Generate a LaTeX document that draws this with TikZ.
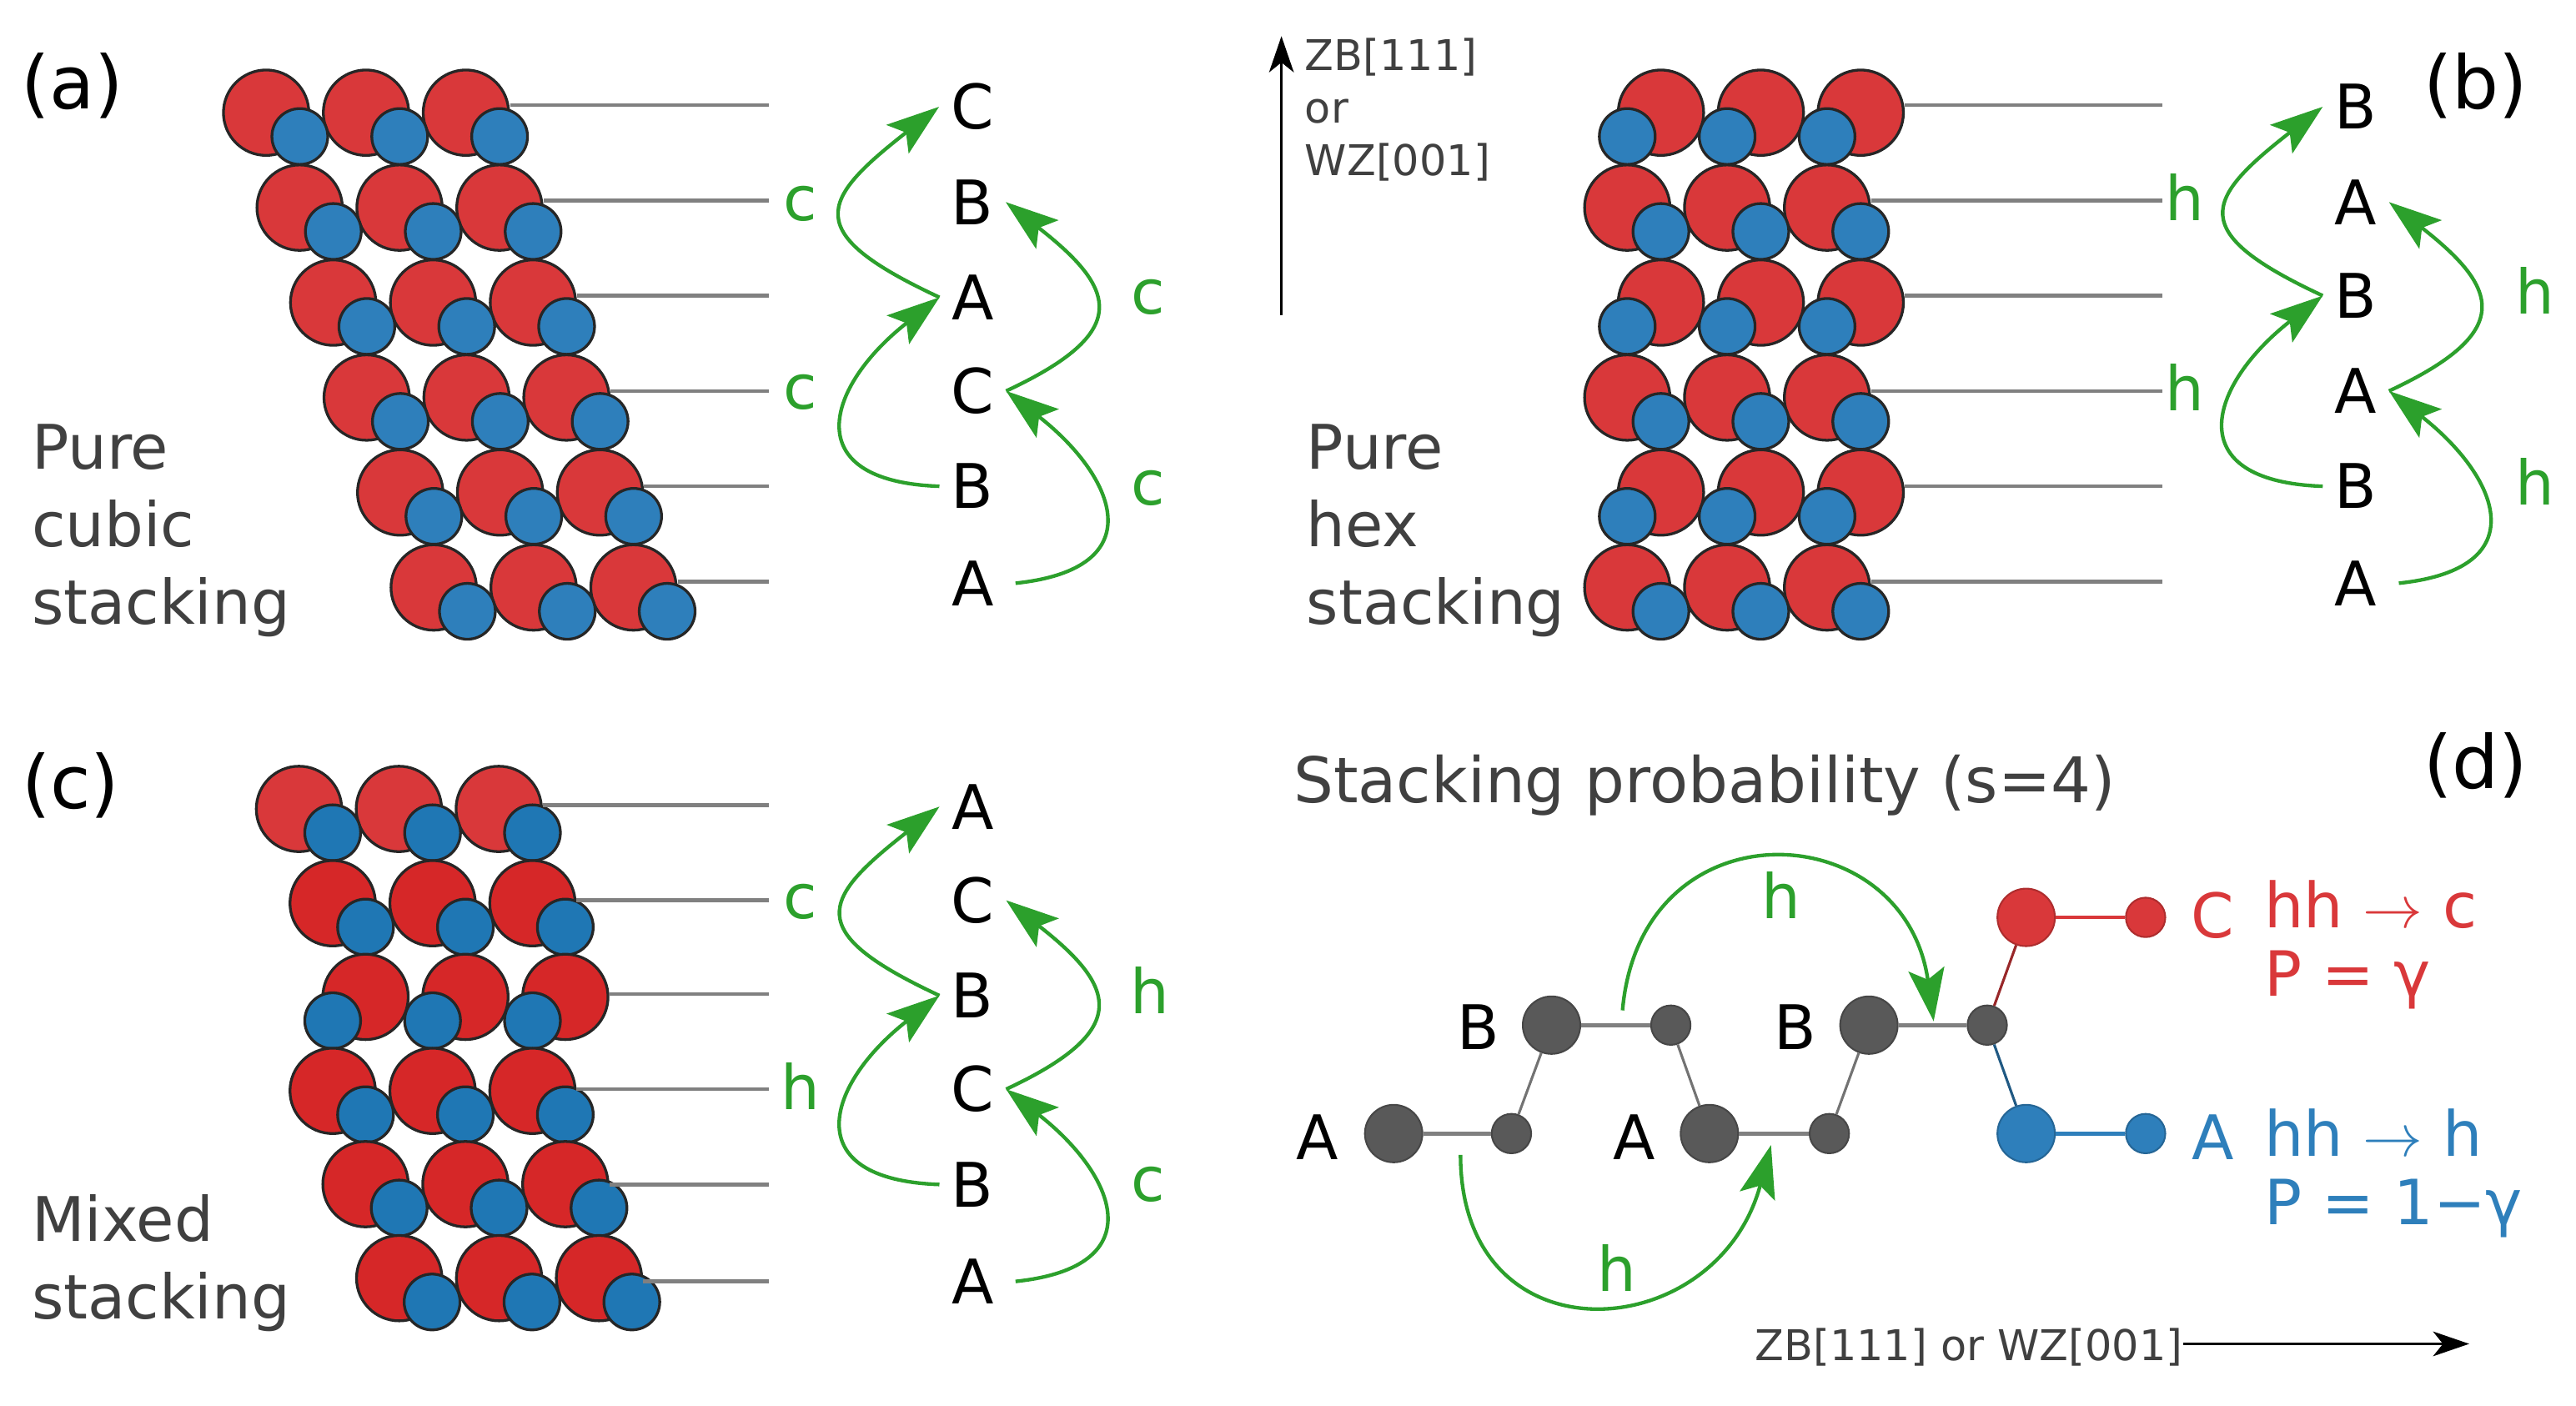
\documentclass[tikz,border=0pt]{standalone}
\usepackage{fontspec}
\setmainfont{DejaVu Sans}
\usetikzlibrary{arrows.meta}

\definecolor{atomred}{HTML}{D9383A}
\definecolor{atomreddark}{HTML}{D62728}
\definecolor{atomblue}{HTML}{2E7FBB}
\definecolor{atombluedark}{HTML}{1F77B4}
\definecolor{stackgreen}{HTML}{2CA02C}
\definecolor{atomgray}{HTML}{595959}
\definecolor{textgray}{HTML}{404040}

\tikzset{
  bigatom/.style={circle,draw=black!85,line width=0.95pt,inner sep=0pt,minimum size=1.04cm},
  smallatom/.style={circle,draw=black!85,line width=0.95pt,inner sep=0pt,minimum size=0.68cm},
  redatom/.style={bigatom,fill=atomred},
  darkredatom/.style={bigatom,fill=atomreddark},
  blueatom/.style={smallatom,fill=atomblue},
  darkblueatom/.style={smallatom,fill=atombluedark},
  layerline/.style={draw=black!50,line width=1.3pt},
  stackletter/.style={font=\fontsize{21.3}{26}\selectfont,inner sep=0.14cm},
  stacklabel/.style={font=\fontsize{21.3}{26}\selectfont,text=stackgreen,inner sep=0pt},
  paneltext/.style={font=\fontsize{21.3}{26.9}\selectfont,text=textgray,align=left,anchor=west,inner sep=0pt},
  panellabel/.style={font=\fontsize{25.5}{30}\selectfont,inner sep=0pt},
  axistext/.style={font=\fontsize{14.7}{18.2}\selectfont,text=textgray,align=left,inner sep=0pt},
  stackarrow/.style={draw=stackgreen,line width=1.25pt,-{Stealth[length=0.64cm,width=0.44cm,inset=0.13cm]}},
  axisarrow/.style={draw=black,line width=1pt,-{Stealth[length=0.44cm,width=0.3cm,inset=0.12cm]}},
  graphbig/.style={circle,draw=#1!80!black,fill=#1,line width=0.6pt,inner sep=0pt,minimum size=0.7cm},
  graphsmall/.style={circle,draw=#1!80!black,fill=#1,line width=0.6pt,inner sep=0pt,minimum size=0.48cm},
  bond/.style={draw=#1,line width=1.3pt},
  ratetext/.style={font=\fontsize{21.6}{23.8}\selectfont,text=#1,align=left,anchor=west,inner sep=0pt}
}

% one row of three large atoms, then their three small partners
\newcommand{\atomrow}[7]{%
  \foreach \col in {1,2,3}
    \node[#6] (#1-#2-\col) at ({#3+60.8*(\col-1)},#4) {};
  \foreach \col in {1,2,3}
    \node[#7] (#1-#2-s\col) at ({#3+#5+60.8*(\col-1)},#4+14.5) {};
}
\newcommand{\stackarcs}[1]{%
  \draw[stackarrow] (#1-l-5.west) to[out=178,in=-142,looseness=1.95] (#1-l-3.west);
  \draw[stackarrow] (#1-l-3.west) to[out=155,in=-142,looseness=2.05] (#1-l-1.west);
  \draw[stackarrow] ([xshift=0.12cm]#1-l-6.east) to[out=6,in=-38,looseness=1.85] (#1-l-4.east);
  \draw[stackarrow] (#1-l-4.east) to[out=25,in=-38,looseness=1.9] (#1-l-2.east);
}

\begin{document}
\begin{tikzpicture}[x=0.02cm,y=-0.02cm]
  \useasboundingbox (0,0) rectangle (1568,855.8);

  % panel a
  \node[panellabel] (a-name) at (44,52) {(a)};
  \atomrow{a}{1}{162}{68.6}{20.5}{redatom}{blueatom}
  \atomrow{a}{2}{182.4}{126.4}{20.5}{redatom}{blueatom}
  \atomrow{a}{3}{202.8}{184.2}{20.5}{redatom}{blueatom}
  \atomrow{a}{4}{223.2}{242}{20.5}{redatom}{blueatom}
  \atomrow{a}{5}{243.6}{299.8}{20.5}{redatom}{blueatom}
  \atomrow{a}{6}{264}{357.6}{20.5}{redatom}{blueatom}
  \foreach \row/\y in {1/64,2/122,3/180,4/238,5/296,6/354} {
    \coordinate (a-e-\row) at (468,\y);
    \draw[layerline] (a-\row-3.east |- a-e-\row) -- (a-e-\row);
  }
  \foreach \i/\ltr/\y in {1/C/65,2/B/123,3/A/181,4/C/238,5/B/296,6/A/355}
    \node[stackletter] (a-l-\i) at (592,\y) {\ltr};
  \stackarcs{a}
  \node[stacklabel] (a-t-1) at (487,124) {c};
  \node[stacklabel] (a-t-2) at (487,239) {c};
  \node[stacklabel] (a-t-3) at (699,181) {c};
  \node[stacklabel] (a-t-4) at (699,297) {c};
  \node[paneltext] (a-text) at (19,323) {Pure\\cubic\\stacking};

  % axis
  \coordinate (zb-v-start) at (780,192);
  \coordinate (zb-v-end) at (780,22);
  \draw[axisarrow] (zb-v-start) -- (zb-v-end);
  \node[axistext,anchor=west] (zb-v) at (794,67) {ZB[111]\\or\\WZ[001]};

  % panel b
  \node[panellabel] (b-name) at (1507,52) {(b)};
  \atomrow{b}{1}{1011}{68.6}{-20.5}{redatom}{blueatom}
  \atomrow{b}{2}{990.5}{126.4}{20.5}{redatom}{blueatom}
  \atomrow{b}{3}{1011}{184.2}{-20.5}{redatom}{blueatom}
  \atomrow{b}{4}{990.5}{242}{20.5}{redatom}{blueatom}
  \atomrow{b}{5}{1011}{299.8}{-20.5}{redatom}{blueatom}
  \atomrow{b}{6}{990.5}{357.6}{20.5}{redatom}{blueatom}
  \foreach \row/\y in {1/64,2/122,3/180,4/238,5/296,6/354} {
    \coordinate (b-e-\row) at (1316,\y);
    \draw[layerline] (b-\row-3.east |- b-e-\row) -- (b-e-\row);
  }
  \foreach \i/\ltr/\y in {1/B/65,2/A/123,3/B/180,4/A/238,5/B/296,6/A/355}
    \node[stackletter] (b-l-\i) at (1434,\y) {\ltr};
  \stackarcs{b}
  \node[stacklabel] (b-t-1) at (1330,120) {h};
  \node[stacklabel] (b-t-2) at (1330,236) {h};
  \node[stacklabel] (b-t-3) at (1543,177) {h};
  \node[stacklabel] (b-t-4) at (1543,293) {h};
  \node[paneltext] (b-text) at (795,323) {Pure\\hex\\stacking};

  % panel c
  \node[panellabel] (c-name) at (43,478) {(c)};
  \atomrow{c}{1}{182}{492.4}{20.5}{redatom}{darkblueatom}
  \atomrow{c}{2}{202.5}{549.8}{20}{darkredatom}{darkblueatom}
  \atomrow{c}{3}{222.5}{606.8}{-20}{darkredatom}{darkblueatom}
  \atomrow{c}{4}{202.5}{664}{20}{darkredatom}{darkblueatom}
  \atomrow{c}{5}{222.5}{720.8}{20.5}{darkredatom}{darkblueatom}
  \atomrow{c}{6}{243}{778}{20}{darkredatom}{darkblueatom}
  \foreach \row/\y in {1/490,2/548,3/605,4/663,5/721,6/780} {
    \coordinate (c-e-\row) at (468,\y);
    \draw[layerline] (c-\row-3.east |- c-e-\row) -- (c-e-\row);
  }
  \foreach \i/\ltr/\y in {1/A/491,2/C/548,3/B/606,4/C/663,5/B/721,6/A/780}
    \node[stackletter] (c-l-\i) at (592,\y) {\ltr};
  \stackarcs{c}
  \node[stacklabel] (c-t-1) at (487,549) {c};
  \node[stacklabel] (c-t-2) at (487,661) {h};
  \node[stacklabel] (c-t-3) at (700,603) {h};
  \node[stacklabel] (c-t-4) at (699,721) {c};
  \node[paneltext] (c-text) at (19,769) {Mixed\\stacking};

  % panel d
  \node[panellabel] (d-name) at (1507,466) {(d)};
  \node[paneltext,anchor=west,font=\fontsize{21.8}{26}\selectfont] (d-title) at (787,478) {Stacking probability (s=4)};

  \node[graphbig=atomgray] (d-a1) at (848.3,690) {};
  \node[graphsmall=atomgray] (d-a1s) at (920,690) {};
  \node[graphbig=atomgray] (d-b1) at (944.4,624) {};
  \node[graphsmall=atomgray] (d-b1s) at (1017,624) {};
  \node[graphbig=atomgray] (d-a2) at (1040.5,690) {};
  \node[graphsmall=atomgray] (d-a2s) at (1113.5,690) {};
  \node[graphbig=atomgray] (d-b2) at (1137.6,624) {};
  \node[graphsmall=atomgray] (d-b2s) at (1209.6,624) {};
  \node[graphbig=atomred] (d-c) at (1233.3,558.4) {};
  \node[graphsmall=atomred] (d-cs) at (1306,558.4) {};
  \node[graphbig=atomblue] (d-a3) at (1233.3,690) {};
  \node[graphsmall=atomblue] (d-a3s) at (1306,690) {};

  \foreach \from/\target in {d-a1/d-a1s,d-b1/d-b1s,d-a2/d-a2s,d-b2/d-b2s}
    \draw[bond=black!50] (\from) -- (\target);
  \foreach \from/\target in {d-a1s/d-b1,d-b1s/d-a2,d-a2s/d-b2}
    \draw[bond=black!55,line width=0.9pt] (\from) -- (\target);
  \draw[bond=atomred!70!black,line width=0.9pt] (d-b2s) -- (d-c);
  \draw[bond=atomblue!70!black,line width=0.9pt] (d-b2s) -- (d-a3);
  \draw[bond=atomred] (d-c) -- (d-cs);
  \draw[bond=atomblue] (d-a3) -- (d-a3s);

  \node[stackletter] (d-l-a1) at (802,692) {A};
  \node[stackletter] (d-l-b1) at (900,625) {B};
  \node[stackletter] (d-l-a2) at (995,692) {A};
  \node[stackletter] (d-l-b2) at (1093,625) {B};
  \node[stackletter,text=atomred] (d-l-c) at (1347,557) {C};
  \node[stackletter,text=atomblue] (d-l-a3) at (1347,692) {A};

  \coordinate (d-h1-start) at (987.6,615);
  \coordinate (d-h1-end) at (1177,621.6);
  \coordinate (d-h2-start) at (889,703);
  \coordinate (d-h2-end) at (1078,697);
  \draw[stackarrow] (d-h1-start) to[out=85,in=98,looseness=1.72] (d-h1-end);
  \draw[stackarrow] (d-h2-start) to[out=-90,in=-105,looseness=1.72] (d-h2-end);
  \node[stacklabel] (d-t-1) at (1084,545) {h};
  \node[stacklabel] (d-t-2) at (984,772) {h};

  \node[ratetext=atomred] (d-rate-c) at (1378,575) {hh $\rightarrow$ c\\P = γ};
  \node[ratetext=atomblue] (d-rate-h) at (1378,714) {hh $\rightarrow$ h\\P = 1−γ};

  \node[axistext,anchor=east] (zb-h) at (1329,820) {ZB[111] or WZ[001]};
  \coordinate (zb-h-end) at (1503,818);
  \draw[axisarrow] (zb-h.east |- zb-h-end) -- (zb-h-end);
\end{tikzpicture}
\end{document}
